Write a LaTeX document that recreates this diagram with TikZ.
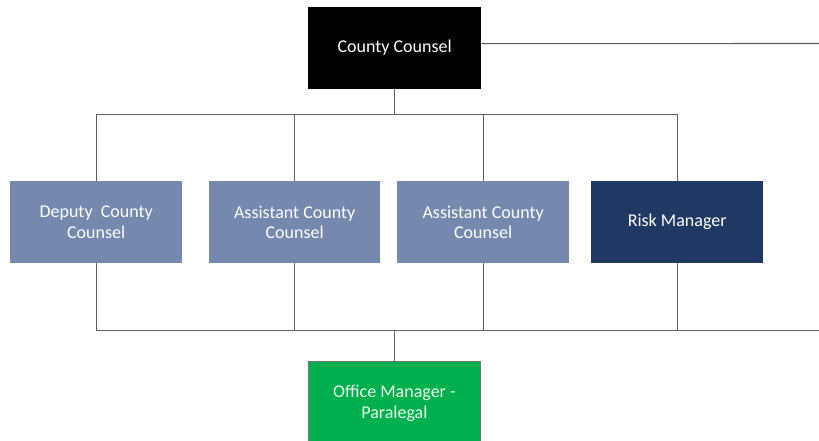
\documentclass[tikz,border=0pt]{standalone}
\usepackage{fontspec}
\setmainfont{Carlito}
\definecolor{steel}{HTML}{7489AD}
\definecolor{navy}{HTML}{1F3864}
\definecolor{grn}{HTML}{00B04F}
\definecolor{linegray}{HTML}{5E5E5E}
\begin{document}
\begin{tikzpicture}[x=1pt,y=-1pt,
  box/.style={rectangle, anchor=north west, minimum width=172pt, minimum height=82pt, inner sep=0pt,
    align=center, text=white, font=\fontsize{18}{20.5}\selectfont},
  conn/.style={draw=linegray, line width=1.1pt}]
\fill[white] (0,0) rectangle (819,441);
\useasboundingbox (0,0) rectangle (819,441);

\node[box, fill=black, minimum width=173pt] (cc) at (308,7) {County Counsel};
\node[box, fill=steel] (dep) at (10,181) {Deputy~ County\\Counsel};
\node[box, fill=steel, minimum width=171pt] (as1) at (209,181) {Assistant County\\Counsel};
\node[box, fill=steel] (as2) at (397,181) {Assistant County\\Counsel};
\node[box, fill=navy] (risk) at (591,181) {Risk Manager};
\node[box, fill=grn, draw=black!55, line width=0.8pt, minimum height=84pt, text=white!92!green] (om) at (308,361) {Office Manager -\\Paralegal};

\coordinate (hb) at (0,114.5);
\coordinate (lb) at (0,330.5);
\coordinate (tr) at (819,43.5);
\coordinate (br) at (819,330.5);

\draw[conn] ([yshift=4.5pt]cc.east) -- (tr);
\draw[conn] (cc.south) -- (cc.south |- hb);
\draw[conn] (dep.north) -- (dep.north |- hb) -- (risk.north |- hb) -- (risk.north);
\draw[conn] (as1.north) -- (as1.north |- hb);
\draw[conn] (as2.north) -- (as2.north |- hb);

\draw[conn] (dep.south) -- (dep.south |- lb) -- (br);
\draw[conn] (as1.south) -- (as1.south |- lb);
\draw[conn] (as2.south) -- (as2.south |- lb);
\draw[conn] (risk.south) -- (risk.south |- lb);
\draw[conn] (om.north) -- (om.north |- lb);
\end{tikzpicture}
\end{document}
